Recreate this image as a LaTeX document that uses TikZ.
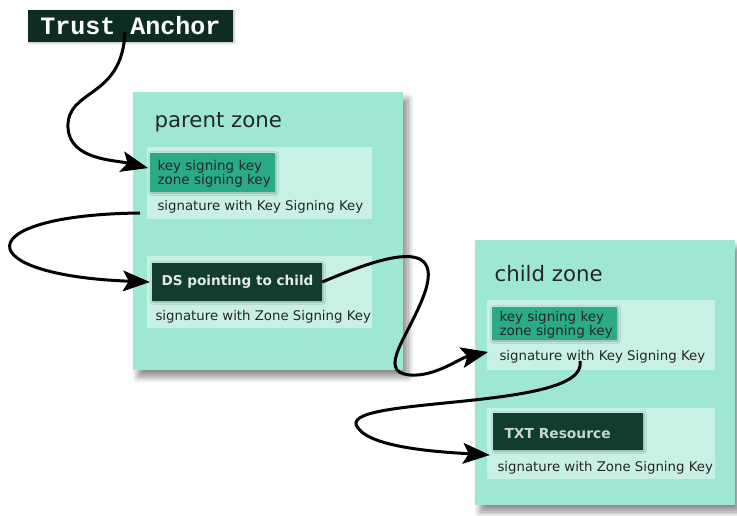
\documentclass[tikz,border=0pt]{standalone}
\usepackage{fontspec}
\setmainfont{DejaVu Sans}
\newfontfamily\anchorfont{Liberation Mono}
\usetikzlibrary{arrows.meta,shadows.blur}
\definecolor{zonefill}{RGB}{158,232,211}
\definecolor{panelfill}{RGB}{200,240,229}
\definecolor{keyfill}{RGB}{42,170,135}
\definecolor{darkfill}{RGB}{17,60,46}
\definecolor{anchorfill}{RGB}{14,44,33}
\definecolor{dstext}{RGB}{226,236,228}
\definecolor{txttext}{RGB}{200,214,204}
\tikzset{
  zone/.style={fill=zonefill, draw=none, blur shadow={shadow xshift=5pt, shadow yshift=-7pt, shadow blur steps=10, shadow blur radius=6pt, shadow opacity=45}},
  panel/.style={fill=panelfill, draw=none},
  keybox/.style={fill=keyfill, draw=none, blur shadow={shadow xshift=1pt, shadow yshift=-1pt, shadow blur steps=4, shadow opacity=30}},
  darkbox/.style={fill=darkfill, draw=none, blur shadow={shadow xshift=1pt, shadow yshift=-1pt, shadow blur steps=4, shadow opacity=30}},
  zonelabel/.style={anchor=west, font=\fontsize{21.3}{24}\selectfont, text=black!85},
  sigtext/.style={anchor=west, font=\fontsize{13.3}{15}\selectfont, text=black!85},
  keytext/.style={anchor=west, align=left, font=\fontsize{13.5}{12.5}\selectfont, text=black!85},
  link/.style={line width=3pt, -{Stealth[length=27pt,width=21pt,inset=6pt,line width=0.8pt,fill=black]}},
}
\begin{document}
\begin{tikzpicture}[x=1pt,y=-1pt]
\useasboundingbox (0,0) rectangle (737,516);
% Trust anchor
\node[fill=anchorfill, minimum width=205pt, minimum height=32pt, inner sep=0pt,
      blur shadow={shadow xshift=1pt, shadow yshift=-1pt, shadow blur steps=4, shadow opacity=30},
      text=white, font=\anchorfont\bfseries\fontsize{25}{25}\selectfont] (ta) at (130.5,26) {Trust Anchor};
% parent zone
\fill[zone] (133,92) rectangle (403,370);
\node[zonelabel] (pz) at (151,122) {parent zone};
\fill[panel] (147,147) rectangle (372,219);
\fill[panel] (147,256) rectangle (372,328);
\fill[keybox] (150,153) rectangle (275,192);
\node[keytext] (pk) at (154,174) {key signing key\\zone signing key};
\node[sigtext] (ps1) at (154,207) {signature with Key Signing Key};
\node[darkbox, minimum width=170pt, minimum height=38pt, inner sep=0pt] (ds) at (237,282) {};
\node[anchor=west, font=\bfseries\fontsize{13.6}{15}\selectfont, text=dstext] (dst) at (158,282) {DS pointing to child};
\node[sigtext] (ps2) at (152,317) {signature with Zone Signing Key};
% child zone
\fill[zone] (475,240) rectangle (735,505);
\node[zonelabel] (cz) at (491,274) {child zone};
\fill[panel] (487,300) rectangle (715,370);
\fill[panel] (487,408) rectangle (715,479);
\fill[keybox] (492,307) rectangle (617,340);
\node[keytext] (ck) at (496,325) {key signing key\\zone signing key};
\node[sigtext] (cs1) at (496,357) {signature with Key Signing Key};
\node[darkbox, minimum width=150pt, minimum height=37pt, inner sep=0pt] (txt) at (568,431.5) {};
\node[anchor=west, font=\bfseries\fontsize{13.8}{15}\selectfont, text=txttext] (txtt) at (501,434) {TXT Resource};
\node[sigtext] (cs2) at (494,468) {signature with Zone Signing Key};
% connectors
\draw[link] ([yshift=10pt]ta.south -| 125,0) .. controls (122,100) and (66,88) .. (68,128)
   .. controls (70,160) and (115,160) .. ([xshift=-6pt]pk.west |- 0,168);
\draw[link] ([xshift=-14pt,yshift=-6pt]ps1.west) .. controls (-32,215) and (-32,275) .. ([xshift=-2pt]ds.west);
\draw[link] (ds.east) .. controls (370,262) and (445,232) .. (425,292)
   .. controls (410,335) and (375,372) .. (410,375)
   .. controls (435,377) and (460,358) .. ([xshift=-8pt]cs1.west |- 0,352);
\draw[link] ([yshift=6pt]cs1.south -| 580,0) .. controls (590,412) and (330,395) .. (358,428)
   .. controls (372,448) and (440,452) .. ([xshift=-3pt]txt.west |- 0,455);
\end{tikzpicture}
\end{document}
